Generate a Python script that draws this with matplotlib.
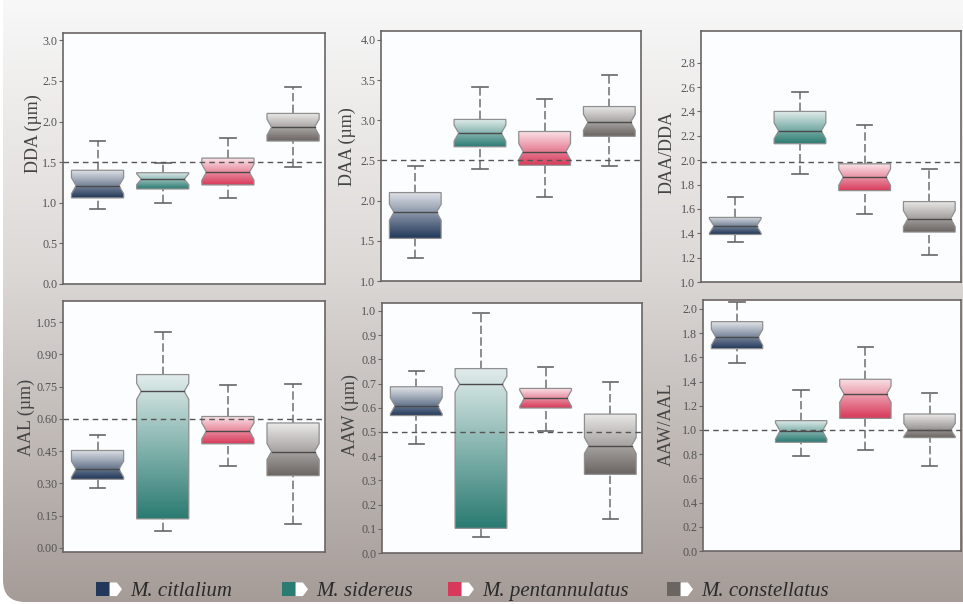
import matplotlib.pyplot as plt
import numpy as np
from matplotlib.colors import LinearSegmentedColormap, to_rgb
from matplotlib.patches import Polygon, Rectangle, FancyBboxPatch

species = ["M. citlalium", "M. sidereus", "M. pentannulatus", "M. constellatus"]
colors = ["#22385a", "#2a7b72", "#d8395a", "#6b6562"]

# box stats: whisker low, q1, median, q3, whisker high
dda_lo = [0.92, 1.00, 1.06, 1.44]
dda_q1 = [1.06, 1.17, 1.22, 1.76]
dda_med = [1.21, 1.29, 1.375, 1.93]
dda_q3 = [1.40, 1.37, 1.55, 2.10]
dda_hi = [1.76, 1.49, 1.80, 2.43]

daa_lo = [1.29, 2.39, 2.05, 2.43]
daa_q1 = [1.53, 2.67, 2.44, 2.80]
daa_med = [1.855, 2.84, 2.61, 2.975]
daa_q3 = [2.10, 3.01, 2.86, 3.17]
daa_hi = [2.43, 3.41, 3.27, 3.56]

ratio1_lo = [1.33, 1.885, 1.56, 1.22]
ratio1_q1 = [1.39, 2.135, 1.75, 1.41]
ratio1_med = [1.46, 2.24, 1.86, 1.52]
ratio1_q3 = [1.53, 2.40, 1.97, 1.66]
ratio1_hi = [1.70, 2.56, 2.29, 1.93]

aal_lo = [0.277, 0.079, 0.382, 0.113]
aal_q1 = [0.319, 0.135, 0.484, 0.336]
aal_med = [0.366, 0.728, 0.544, 0.448]
aal_q3 = [0.453, 0.806, 0.611, 0.581]
aal_hi = [0.523, 1.005, 0.759, 0.764]

aaw_lo = [0.449, 0.066, 0.506, 0.140]
aaw_q1 = [0.568, 0.102, 0.599, 0.325]
aaw_med = [0.608, 0.697, 0.639, 0.444]
aaw_q3 = [0.687, 0.762, 0.680, 0.574]
aaw_hi = [0.750, 0.992, 0.768, 0.705]

ratio2_lo = [1.554, 0.788, 0.832, 0.702]
ratio2_q1 = [1.672, 0.898, 1.096, 0.937]
ratio2_med = [1.766, 0.992, 1.295, 1.000]
ratio2_q3 = [1.895, 1.077, 1.419, 1.132]
ratio2_hi = [2.058, 1.331, 1.683, 1.309]

labels = ["DDA (µm)", "DAA (µm)", "DAA/DDA", "AAL (µm)", "AAW (µm)", "AAW/AAL"]
ref_lines = [1.5, 2.5, 1.985, 0.60, 0.50, 1.0]

plt.rcParams["font.family"] = ["Liberation Serif", "DejaVu Serif"]

W, H = 963, 604
fig = plt.figure(figsize=(W / 100, H / 100), dpi=100)

# background with gradient and rounded corner
bg = fig.add_axes([0, 0, 1, 1], zorder=-10)
bg.set_xlim(0, W)
bg.set_ylim(H, 0)
bg.axis("off")
bg_cmap = LinearSegmentedColormap.from_list(
    "bg", [(0, "#f8f8f8"), (0.45, "#dcd8d6"), (1, "#a59c98")])
im = bg.imshow(np.linspace(0, 1, 256)[:, None], cmap=bg_cmap, aspect="auto",
               extent=[0, W, H, 0], interpolation="bicubic")
frame = FancyBboxPatch((3, -30), W + 40, H + 28,
                       boxstyle="round,pad=0,rounding_size=22",
                       transform=bg.transData, fc="none", ec="none")
bg.add_patch(frame)
im.set_clip_path(frame)

# axes boxes in pixels: top, left, right, bottom
boxes = [(33, 63, 325, 284), (31, 381, 641, 281), (31, 701, 961, 282),
         (301, 63, 325, 552), (303, 382, 642, 553), (300, 703, 961, 551)]
label_dx = [30, 34, 34, 37, 32, 37]
label_y = [0.60, 0.536, 0.514, 0.538, 0.552, 0.506]
stats = [
    (dda_lo, dda_q1, dda_med, dda_q3, dda_hi),
    (daa_lo, daa_q1, daa_med, daa_q3, daa_hi),
    (ratio1_lo, ratio1_q1, ratio1_med, ratio1_q3, ratio1_hi),
    (aal_lo, aal_q1, aal_med, aal_q3, aal_hi),
    (aaw_lo, aaw_q1, aaw_med, aaw_q3, aaw_hi),
    (ratio2_lo, ratio2_q1, ratio2_med, ratio2_q3, ratio2_hi),
]
ylims = [(0, 3.09), (1.0, 4.11), (1.0, 3.06), (-0.019, 1.148), (0, 1.033), (0, 2.074)]
yticks = [np.arange(0, 3.01, 0.5), np.arange(1.0, 4.01, 0.5), np.arange(1.0, 2.81, 0.2),
          np.arange(0, 1.051, 0.15), np.arange(0, 1.01, 0.1), np.arange(0, 2.01, 0.2)]
fmts = ["%.1f", "%.1f", "%.1f", "%.2f", "%.1f", "%.1f"]

width = 0.8
indent = 0.07
cap = 0.24
pos = np.arange(1, 5)

for i, (t, l, r, b) in enumerate(boxes):
    ax = fig.add_axes([l / W, 1 - b / H, (r - l) / W, (b - t) / H])
    ax.set_facecolor("#fcfdfe")
    lo, q1, med, q3, hi = stats[i]
    y0, y1 = ylims[i]
    nh_base = 0.032 * (y1 - y0)
    for j, p in enumerate(pos):
        c = colors[j]
        light = tuple(0.86 + 0.14 * v for v in to_rgb(c))
        cmap = LinearSegmentedColormap.from_list("g%d" % j, [c, light])
        xl, xr = p - width / 2, p + width / 2
        nh = min(nh_base, 0.85 * (med[j] - q1[j]), 0.85 * (q3[j] - med[j]))
        verts = [(xl, q1[j]), (xr, q1[j]), (xr, med[j] - nh), (xr - indent, med[j]),
                 (xr, med[j] + nh), (xr, q3[j]), (xl, q3[j]), (xl, med[j] + nh),
                 (xl + indent, med[j]), (xl, med[j] - nh)]
        poly = Polygon(verts, closed=True, fc="none", ec="#8f8f8f", lw=0.9, zorder=4)
        ax.add_patch(poly)
        g = ax.imshow(np.linspace(0, 1, 256)[:, None], cmap=cmap, origin="lower",
                      aspect="auto", extent=[xl, xr, q1[j], q3[j]],
                      interpolation="bicubic", zorder=3)
        g.set_clip_path(poly)
        ax.plot([xl + indent, xr - indent], [med[j], med[j]], color="#4a4a4a", lw=1, zorder=5)
        # whiskers
        ax.plot([p, p], [q3[j], hi[j]], color="#7a7a7a", lw=1.2, ls=(0, (5, 2)), zorder=2)
        ax.plot([p, p], [lo[j], q1[j]], color="#7a7a7a", lw=1.2, ls=(0, (5, 2)), zorder=2)
        ax.plot([p - cap / 2, p + cap / 2], [hi[j], hi[j]], color="#666666", lw=1.2, zorder=2)
        ax.plot([p - cap / 2, p + cap / 2], [lo[j], lo[j]], color="#666666", lw=1.2, zorder=2)
    ax.axhline(ref_lines[i], color="#555555", lw=1, ls=(0, (4, 3)), zorder=6)
    ax.set_xlim(0.47, 4.49)
    ax.set_ylim(y0, y1)
    ax.set_xticks([])
    ax.set_yticks(yticks[i])
    ax.set_yticklabels([fmts[i] % v for v in yticks[i]])
    ax.tick_params(axis="y", direction="out", length=3, width=0.8, color="#666666",
                   labelsize=8.7, labelcolor="#555555", pad=1)
    for s in ax.spines.values():
        s.set_color("#6a6565")
        s.set_linewidth(1.2)
    ax.set_ylabel(labels[i], fontsize=13, color="#444444", va="center")
    ax.yaxis.set_label_coords(-label_dx[i] / (r - l), label_y[i])


class TagHandler:
    def legend_artist(self, legend, orig_handle, fontsize, handlebox):
        x0, y0 = handlebox.xdescent, handlebox.ydescent
        w, h = handlebox.width, handlebox.height
        sq = w * 0.52
        tr = handlebox.get_transform()
        handlebox.add_artist(Rectangle((x0, y0), sq, h, fc=orig_handle, ec="none", transform=tr))
        tag = Polygon([(x0 + sq, y0), (x0 + w * 0.8, y0), (x0 + w, y0 + h / 2),
                       (x0 + w * 0.8, y0 + h), (x0 + sq, y0 + h)],
                      closed=True, fc="white", ec="none", transform=tr)
        handlebox.add_artist(tag)
        return tag


legend_x = [96, 282, 448, 667]
for name, c, lx in zip(species, colors, legend_x):
    fig.legend([c], [name], handler_map={str: TagHandler()}, loc="center left",
               bbox_to_anchor=(lx / W, 1 - 591 / H), frameon=False,
               borderaxespad=0, borderpad=0, handlelength=1.25, handleheight=0.63,
               handletextpad=0.38,
               prop={"family": "Liberation Serif", "style": "italic", "size": 15},
               labelcolor="#2b2b2b")

fig.savefig("out.png", dpi=100)
